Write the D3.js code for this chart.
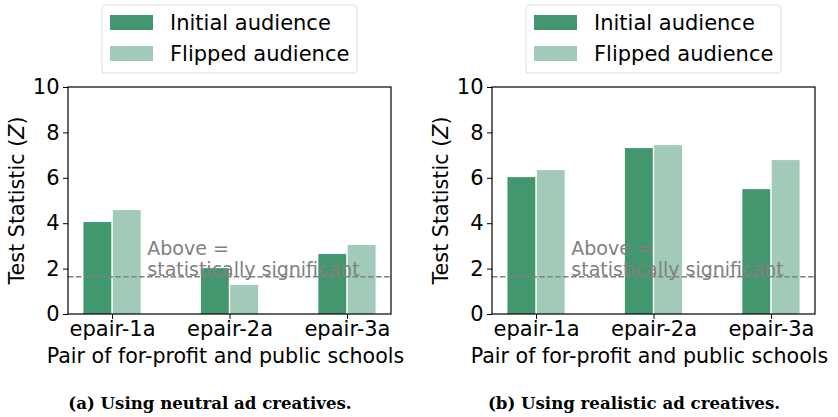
<!DOCTYPE html>
<html>
<head>
<meta charset="utf-8">
<script src="https://cdn.jsdelivr.net/npm/d3@7"></script>
<style>
  body { margin: 0; background: #fff; }
  svg { display: block; }
</style>
</head>
<body>
<svg width="838" height="417"></svg>
<script>
// values
var categories = ["epair-1a", "epair-2a", "epair-3a"];
var neutralInitial = [4.05, 2.02, 2.64];
var neutralFlipped = [4.58, 1.28, 3.04];
var realisticInitial = [6.03, 7.31, 5.50];
var realisticFlipped = [6.34, 7.44, 6.78];
var yTicks = [0, 2, 4, 6, 8, 10];
var seriesNames = ["Initial audience", "Flipped audience"];
var captions = ["(a) Using neutral ad creatives.", "(b) Using realistic ad creatives."];
var threshold = 1.645;

var colors = ["#42976f", "#a1cbb8"];
var svg = d3.select("svg");
var font = "DejaVu Sans";

function drawPanel(offsetX, initial, flipped, caption) {
  var margin = {left: 68, top: 87},
  width = 323,
  height = 227;

  var g = svg.append("g")
  .attr("transform", "translate(" + (offsetX + margin.left) + "," + margin.top + ")");

  var x = d3.scaleLinear().domain([-0.375, 2.375]).range([0, width]),
  y = d3.scaleLinear().domain([0, 10]).range([height, 0]);

  var barW = 0.25;
  var series = [initial, flipped];

  series.forEach(function (vals, s) {
    g.selectAll(".bar" + s)
    .data(vals)
    .enter().append("rect")
    .attr("x", function (d, i) { return x(i + (s === 0 ? -barW : 0)) + 0.75; })
    .attr("width", function () { return x(barW) - x(0) - 1.5; })
    .attr("y", function (d) { return y(d); })
    .attr("height", function (d) { return y(0) - y(d); })
    .attr("fill", colors[s]);
  });

  // significance line + note
  g.append("line")
  .attr("x1", 0).attr("x2", width)
  .attr("y1", y(threshold)).attr("y2", y(threshold))
  .attr("stroke", "#808080")
  .attr("stroke-width", 1.5)
  .attr("stroke-dasharray", "5.5,2.4");

  var note = g.append("text")
  .attr("x", x(0.3))
  .attr("y", y(threshold) - 22)
  .attr("fill", "#808080")
  .style("font", "19px '" + font + "'");
  note.append("tspan").text("Above =");
  note.append("tspan").attr("x", x(0.3)).attr("dy", 21).text("statistically significant");

  // axes
  var yAxis = g.append("g")
  .call(d3.axisLeft(y).tickValues(yTicks).tickSize(5).tickPadding(3.5));
  var xAxis = g.append("g")
  .attr("transform", "translate(0," + height + ")")
  .call(d3.axisBottom(x).tickValues([0, 1, 2]).tickSize(5).tickPadding(2)
    .tickFormat(function (d) { return categories[d]; }));
  [xAxis, yAxis].forEach(function (ax) {
    ax.select(".domain").remove();
    ax.selectAll("line").attr("stroke", "#000").attr("stroke-width", 1);
    ax.selectAll("text").attr("fill", "#000").style("font", "21px '" + font + "'");
  });

  g.append("rect")
  .attr("width", width).attr("height", height)
  .attr("fill", "none").attr("stroke", "#000").attr("stroke-width", 1.2);

  // axis titles
  var yl = g.append("text")
  .attr("transform", "translate(-44," + (height / 2) + ") rotate(-90)")
  .attr("text-anchor", "middle")
  .style("font", "20.7px '" + font + "'");
  yl.append("tspan").text("Test Statistic (");
  yl.append("tspan").style("font-style", "italic").text("Z");
  yl.append("tspan").text(")");

  g.append("text")
  .attr("x", width / 2 - 4)
  .attr("y", height + 49)
  .attr("text-anchor", "middle")
  .style("font", "20.6px '" + font + "'")
  .text("Pair of for-profit and public schools");

  // legend
  var lg = svg.append("g").attr("transform", "translate(" + (offsetX + 102) + ",5)");
  lg.append("rect")
  .attr("width", 255).attr("height", 68).attr("rx", 3)
  .attr("fill", "#fff").attr("stroke", "#dcdcdc");
  seriesNames.forEach(function (name, i) {
    lg.append("rect")
    .attr("x", 8).attr("y", 10 + i * 31)
    .attr("width", 43).attr("height", 15)
    .attr("fill", colors[i]);
    lg.append("text")
    .attr("x", 68).attr("y", 25 + i * 31)
    .style("font", "21px '" + font + "'")
    .text(name);
  });

  // caption
  svg.append("text")
  .attr("x", offsetX + 210)
  .attr("y", 409)
  .attr("text-anchor", "middle")
  .style("font", "bold 16.6px 'DejaVu Serif'")
  .text(caption);
}

drawPanel(0, neutralInitial, neutralFlipped, captions[0]);
drawPanel(424, realisticInitial, realisticFlipped, captions[1]);
</script>
</body>
</html>
